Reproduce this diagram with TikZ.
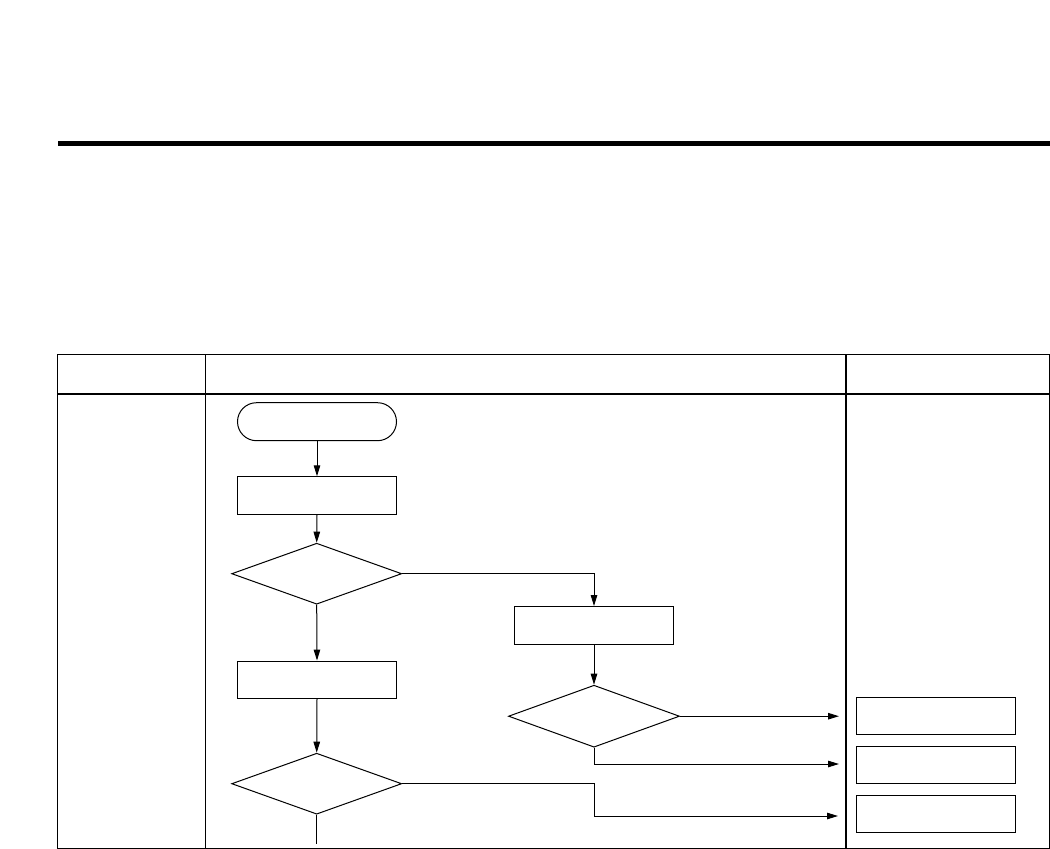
\documentclass[tikz,border=0pt]{standalone}
\usetikzlibrary{shapes.geometric,arrows.meta}
\tikzset{
  frame/.style={line width=1.6pt},
  procbox/.style={draw, line width=1pt, rectangle, inner sep=0pt, minimum width=159pt, minimum height=37.5pt},
  termbox/.style={draw, line width=1pt, rectangle, rounded corners=19pt, inner sep=0pt, minimum width=159pt, minimum height=38pt},
  decbox/.style={draw, line width=1pt, diamond, aspect=2.8, inner sep=0pt, minimum width=170pt, minimum height=61pt},
  conn/.style={line width=1pt},
  arr/.style={conn, -{Triangle[length=11pt,width=6.5pt]}}
}
\begin{document}
\begin{tikzpicture}[x=1pt,y=-1pt]
\useasboundingbox (0,0) rectangle (1050,849);
% top rule
\draw[line width=5pt] (58,143.5) -- (1050,143.5);
% table
\draw[frame] (57.3,354.3) rectangle (1049.3,848.3);
\draw[frame] (57.3,394) -- (1049.3,394);
\draw[frame] (205.3,354.3) -- (205.3,848.3);
\draw[frame] (845.7,354.3) -- (845.7,848.3);
% nodes
\node[termbox] (term) at (317,421.7) {};
\node[procbox] (b1) at (317,495.5) {};
\node[decbox] (d1) at (316.7,573.7) {};
\node[procbox] (b2) at (594,625.3) {};
\node[decbox, minimum width=171pt, minimum height=62pt] (d3) at (594,716.2) {};
\node[procbox] (b3) at (317,679.8) {};
\node[decbox] (d2) at (316.7,783.7) {};
\node[procbox, minimum height=36.7pt] (rA) at (936,715.7) {};
\node[procbox, minimum height=37pt] (rB) at (936,764.8) {};
\node[procbox, minimum height=37pt] (rC) at (936,813.8) {};
% free ends
\coordinate (eA) at (839,716.2);
\coordinate (eB) at (839,764);
\coordinate (kC) at (594,816);
\coordinate (eC) at (838,816);
\coordinate (bot) at (316.7,844);
% connectors
\draw[arr] (term.south) -- (b1.north);
\draw[arr] (b1.south) -- (d1.north);
\draw[arr] (d1.east) -| (b2.north);
\draw[arr] (d1.south) -- (b3.north);
\draw[arr] (b2.south) -- (d3.north);
\draw[arr] (b3.south) -- (d2.north);
\draw[arr] (d3.east) -- (eA);
\draw[arr] (d3.south) |- (eB);
\draw[arr] (d2.east) -| (kC) -- (eC);
\draw[conn] (d2.south) -- (bot);
\end{tikzpicture}
\end{document}
